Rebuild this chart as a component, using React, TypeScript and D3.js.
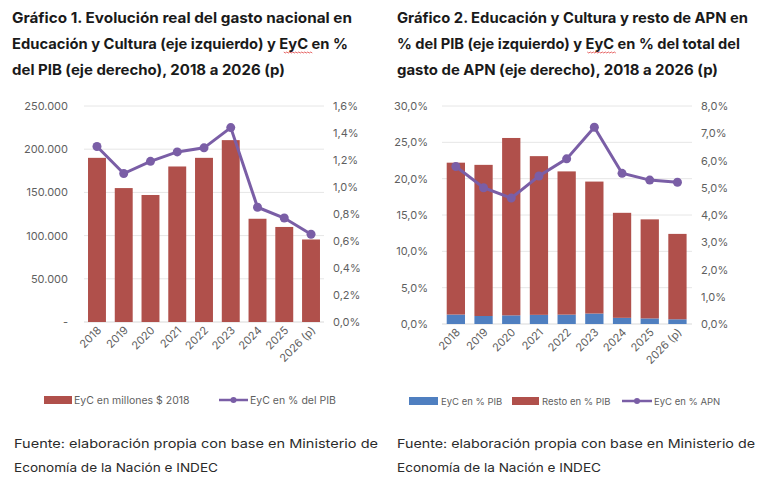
import { useEffect, useRef } from 'react';
import * as d3 from 'd3';

const years = ['2018', '2019', '2020', '2021', '2022', '2023', '2024', '2025', '2026 (p)'];

// Gráfico 1
const eycMillones = [190000, 155000, 147000, 180000, 190000, 210500, 119500, 110000, 95500];
const eycPib = [1.3, 1.1, 1.19, 1.26, 1.29, 1.44, 0.85, 0.77, 0.65];

// Gráfico 2
const totalApnPib = [22.2, 21.9, 25.6, 23.1, 21.0, 19.6, 15.3, 14.4, 12.4];
const restoPib = totalApnPib.map((t, i) => +(t - eycPib[i]).toFixed(2));
const eycApn = [5.78, 5.0, 4.62, 5.43, 6.06, 7.22, 5.53, 5.28, 5.2];

const leftTicks1 = [0, 50000, 100000, 150000, 200000, 250000];
const rightTicks1 = [0, 0.2, 0.4, 0.6, 0.8, 1.0, 1.2, 1.4, 1.6];
const leftTicks2 = [0, 5, 10, 15, 20, 25, 30];
const rightTicks2 = [0, 1, 2, 3, 4, 5, 6, 7, 8];

const title1 = [
  'Gráfico 1. Evolución real del gasto nacional en',
  'Educación y Cultura (eje izquierdo) y EyC en %',
  'del PIB (eje derecho), 2018 a 2026 (p)',
];
const title2 = [
  'Gráfico 2. Educación y Cultura y resto de APN en',
  '% del PIB (eje izquierdo) y EyC en % del total del',
  'gasto de APN (eje derecho), 2018 a 2026 (p)',
];
const fuente = ['Fuente: elaboración propia con base en Ministerio de', 'Economía de la Nación e INDEC'];

const RED = '#b0504b';
const BLUE = '#4f7fc0';
const PURPLE = '#7a5ea6';
const GRID = '#e6e6e6';
const TICK = '#5f5f5f';
const FONT = 'Inter, "Open Sans", sans-serif';

const fmtMiles = (v: number) => (v === 0 ? '-' : d3.format(',')(v).replace(/,/g, '.'));
const fmtPct = (v: number) => v.toFixed(1).replace('.', ',') + '%';

export default function App() {
  const svgRef = useRef<SVGSVGElement>(null);

  useEffect(() => {
    if (!svgRef.current) return;
    const svg = d3.select(svgRef.current);
    svg.selectAll('*').remove();

    // text block helper, stretched to the widths seen in the reference
    const block = (
      lines: string[],
      x: number,
      ys: number[],
      widths: (number | null)[],
      size: number,
      weight: string,
      color: string,
    ) => {
      lines.forEach((line, i) => {
        const t = svg
          .append('text')
          .attr('x', x)
          .attr('y', ys[i])
          .attr('fill', color)
          .style('font-family', FONT)
          .style('font-size', `${size}px`)
          .style('font-weight', weight)
          .text(line);
        const node = t.node() as SVGTextElement;
        const natural = node.getComputedTextLength();
        const w = widths[i];
        if (w) {
          t.attr('textLength', w).attr('lengthAdjust', 'spacingAndGlyphs');
        }
        // spell-check squiggle under "EyC"
        const idx = line.indexOf('EyC');
        if (idx >= 0 && weight === 'bold') {
          const k = w ? w / natural : 1;
          const x0 = x + node.getSubStringLength(0, idx) * k;
          const x1 = x0 + node.getSubStringLength(idx, 3) * k;
          const pts: [number, number][] = [];
          for (let px = x0, j = 0; px <= x1; px += 1.5, j++) pts.push([px, ys[i] + 3 + (j % 2 ? 1 : 0)]);
          svg.append('path').attr('d', d3.line()(pts)).attr('fill', 'none').attr('stroke', '#e04040').attr('stroke-width', 0.8);
        }
      });
    };

    block(title1, 12, [23, 49, 75], [340, 336, 273], 14.5, 'bold', '#1a1a1a');
    block(title2, 397, [23, 49, 75], [351, 343, 321], 14.5, 'bold', '#1a1a1a');
    block(fuente, 14, [448, 472], [364, 204], 12, 'normal', '#2b2b2b');
    block(fuente, 397, [448, 472], [358, 204], 12, 'normal', '#2b2b2b');

    const xLabels = (g: d3.Selection<SVGGElement, unknown, null, undefined>, x: d3.ScaleBand<string>, y0: number) => {
      g.selectAll('.xl')
        .data(years)
        .enter()
        .append('text')
        .attr('text-anchor', 'end')
        .attr('transform', d => `translate(${(x(d) || 0) + x.bandwidth() / 2 + 5},${y0 + 9}) rotate(-45)`)
        .attr('fill', TICK)
        .style('font-family', FONT)
        .style('font-size', '11px')
        .text(d => d);
    };

    const axisText = (
      g: d3.Selection<SVGGElement, unknown, null, undefined>,
      ticks: number[],
      scale: d3.ScaleLinear<number, number>,
      x: number,
      anchor: string,
      fmt: (v: number) => string,
    ) => {
      g.selectAll(null)
        .data(ticks)
        .enter()
        .append('text')
        .attr('x', x)
        .attr('y', d => scale(d) + 4)
        .attr('text-anchor', anchor)
        .attr('fill', TICK)
        .style('font-family', FONT)
        .style('font-size', '11px')
        .text(d => fmt(d));
    };

    const drawLine = (
      g: d3.Selection<SVGGElement, unknown, null, undefined>,
      x: d3.ScaleBand<string>,
      y: d3.ScaleLinear<number, number>,
      vals: number[],
    ) => {
      const line = d3
        .line<number>()
        .x((_, i) => (x(years[i]) || 0) + x.bandwidth() / 2)
        .y(d => y(d));
      g.append('path').attr('d', line(vals)).attr('fill', 'none').attr('stroke', PURPLE).attr('stroke-width', 3);
      g.selectAll(null)
        .data(vals)
        .enter()
        .append('circle')
        .attr('cx', (_, i) => (x(years[i]) || 0) + x.bandwidth() / 2)
        .attr('cy', d => y(d))
        .attr('r', 4.5)
        .attr('fill', PURPLE);
    };

    // ---------- Gráfico 1 ----------
    {
      const g = svg.append('g');
      const x = d3.scaleBand<string>().domain(years).range([83.6, 324.4]).paddingInner(0.33).paddingOuter(0.165);
      const yL = d3.scaleLinear().domain([0, 250000]).range([322, 106]);
      const yR = d3.scaleLinear().domain([0, 1.6]).range([322, 106]);

      g.selectAll(null)
        .data(leftTicks1)
        .enter()
        .append('line')
        .attr('x1', 84)
        .attr('x2', 324)
        .attr('y1', d => yL(d))
        .attr('y2', d => yL(d))
        .attr('stroke', d => (d === 0 ? '#d9d9d9' : GRID));

      g.selectAll(null)
        .data(eycMillones)
        .enter()
        .append('rect')
        .attr('x', (_, i) => x(years[i]) || 0)
        .attr('y', d => yL(d))
        .attr('width', x.bandwidth())
        .attr('height', d => yL(0) - yL(d))
        .attr('fill', RED);

      drawLine(g, x, yR, eycPib);
      axisText(g, leftTicks1, yL, 68, 'end', fmtMiles);
      axisText(g, rightTicks1, yR, 333, 'start', fmtPct);
      xLabels(g, x, 322);

      // legend
      g.append('rect').attr('x', 44).attr('y', 396).attr('width', 28).attr('height', 8).attr('fill', RED);
      g.append('text').attr('x', 74).attr('y', 404).attr('fill', TICK).style('font-family', FONT).style('font-size', '10.5px').text('EyC en millones $ 2018');
      g.append('line').attr('x1', 219).attr('x2', 248).attr('y1', 400).attr('y2', 400).attr('stroke', PURPLE).attr('stroke-width', 2.5);
      g.append('circle').attr('cx', 233.5).attr('cy', 400).attr('r', 3).attr('fill', PURPLE);
      g.append('text').attr('x', 250).attr('y', 404).attr('fill', TICK).style('font-family', FONT).style('font-size', '10.5px').text('EyC en % del PIB');
    }

    // ---------- Gráfico 2 ----------
    {
      const g = svg.append('g');
      const x = d3.scaleBand<string>().domain(years).range([442, 691.3]).paddingInner(0.34).paddingOuter(0.17);
      const yL = d3.scaleLinear().domain([0, 30]).range([324, 106]);
      const yR = d3.scaleLinear().domain([0, 8]).range([324, 106]);

      g.selectAll(null)
        .data(leftTicks2)
        .enter()
        .append('line')
        .attr('x1', 442)
        .attr('x2', 692)
        .attr('y1', d => yL(d))
        .attr('y2', d => yL(d))
        .attr('stroke', d => (d === 0 ? '#d9d9d9' : GRID));

      const stackData = years.map((y, i) => ({ year: y, eyc: eycPib[i], resto: restoPib[i] }));
      const series = d3.stack<any>().keys(['eyc', 'resto'])(stackData);
      const colors: Record<string, string> = { eyc: BLUE, resto: RED };

      series.forEach(s => {
        g.selectAll(null)
          .data(s)
          .enter()
          .append('rect')
          .attr('x', d => x(d.data.year) || 0)
          .attr('y', d => yL(d[1]))
          .attr('width', x.bandwidth())
          .attr('height', d => yL(d[0]) - yL(d[1]))
          .attr('fill', colors[s.key]);
      });

      drawLine(g, x, yR, eycApn);
      axisText(g, leftTicks2, yL, 428, 'end', fmtPct);
      axisText(g, rightTicks2, yR, 701, 'start', fmtPct);
      xLabels(g, x, 324);

      // legend
      const lf = '9.5px';
      g.append('rect').attr('x', 409).attr('y', 397).attr('width', 29).attr('height', 8).attr('fill', BLUE);
      g.append('text').attr('x', 441).attr('y', 404.5).attr('fill', TICK).style('font-family', FONT).style('font-size', lf).text('EyC en % PIB');
      g.append('rect').attr('x', 512).attr('y', 397).attr('width', 27).attr('height', 8).attr('fill', RED);
      g.append('text').attr('x', 542).attr('y', 404.5).attr('fill', TICK).style('font-family', FONT).style('font-size', lf).text('Resto en % PIB');
      g.append('line').attr('x1', 622).attr('x2', 652).attr('y1', 401).attr('y2', 401).attr('stroke', PURPLE).attr('stroke-width', 2.5);
      g.append('circle').attr('cx', 637).attr('cy', 401).attr('r', 3).attr('fill', PURPLE);
      g.append('text').attr('x', 654).attr('y', 404.5).attr('fill', TICK).style('font-family', FONT).style('font-size', lf).text('EyC en % APN');
    }
  }, []);

  return (
    <svg
      ref={svgRef}
      width={776}
      height={488}
      style={{ position: 'absolute', left: 0, top: 0, background: '#fff' }}
    />
  );
}
